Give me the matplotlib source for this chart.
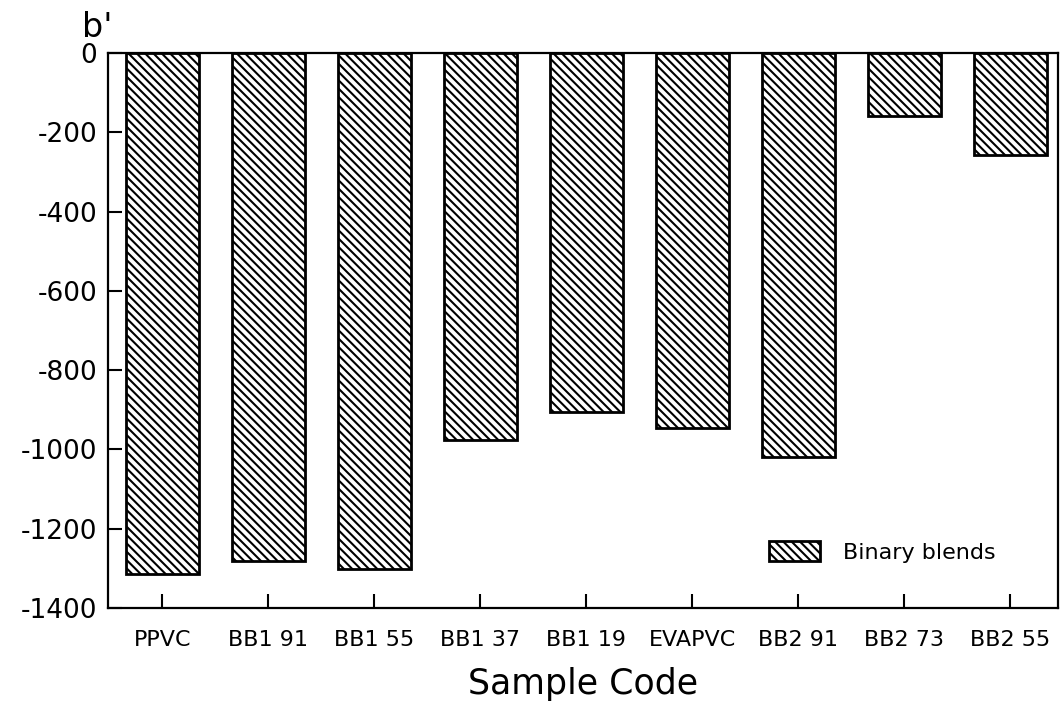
import numpy as np
import matplotlib
matplotlib.use("Agg")
import matplotlib.pyplot as plt
from matplotlib.patches import Patch

samples = ["PPVC", "BB1 91", "BB1 55", "BB1 37", "BB1 19", "EVAPVC", "BB2 91", "BB2 73", "BB2 55"]
b_prime = [-1315, -1282, -1302, -975, -905, -945, -1020, -160, -258]
y_ticks = [0, -200, -400, -600, -800, -1000, -1200, -1400]

plt.rcParams['font.family'] = ['DejaVu Sans']
plt.rcParams['hatch.linewidth'] = 1.5
plt.rcParams['hatch.color'] = 'black'

fig = plt.figure(figsize=(10.6, 7.04), dpi=100)
ax = fig.add_axes([0.102, 0.1364, 0.896, 0.7883])

x = np.arange(len(samples))
ax.bar(x, b_prime, width=0.69, color="white", edgecolor="black", linewidth=2,
       hatch="\\\\\\\\")

ax.set_xlim(-0.51, 8.45)
ax.set_ylim(-1400, 0)
ax.set_yticks(y_ticks)
ax.set_yticklabels([str(v) for v in y_ticks], fontsize=19)
ax.set_xticks(x)
ax.set_xticklabels(samples, fontsize=16)
ax.tick_params(axis="y", direction="in", length=10, width=1.5, pad=8)
ax.tick_params(axis="x", direction="in", length=10, width=1.5, pad=16)
for s in ax.spines.values():
    s.set_linewidth(1.6)

ax.set_xlabel("Sample Code", fontsize=25, labelpad=12)
fig.text(0.077, 0.938, "b'", fontsize=24, ha="left", va="bottom")

handle = Patch(facecolor="white", edgecolor="black", hatch="\\\\\\\\", linewidth=2)
ax.legend([handle], ["Binary blends"], loc="lower right", bbox_to_anchor=(0.955, 0.045),
          frameon=False, fontsize=16, handlelength=2.3, handleheight=1.0, handletextpad=1.0)

fig.savefig("out.png", dpi=100)
